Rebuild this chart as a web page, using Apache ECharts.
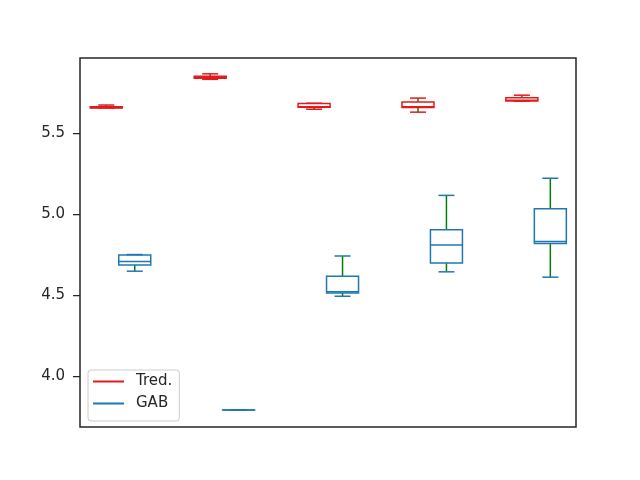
<!DOCTYPE html>
<html><head><meta charset="utf-8">
<script src="https://cdn.jsdelivr.net/npm/echarts@6/dist/echarts.min.js"></script>
<style>html,body{margin:0;padding:0;background:#fff}#c{width:640px;height:480px}</style>
</head><body><div id="c"></div>
<script>
// data: [min, q1, median, q3, max]
var groups = [1, 2, 3, 4, 5];
var tred = [
  [5.657, 5.657, 5.660, 5.664, 5.675],
  [5.834, 5.840, 5.847, 5.853, 5.868],
  [5.649, 5.662, 5.664, 5.684, 5.686],
  [5.631, 5.659, 5.665, 5.693, 5.718],
  [5.699, 5.700, 5.705, 5.720, 5.736]
];
var gab = [
  [4.647, 4.685, 4.707, 4.747, 4.750],
  [3.788, 3.788, 3.788, 3.788, 3.788],
  [4.492, 4.512, 4.520, 4.616, 4.741],
  [4.643, 4.697, 4.809, 4.903, 5.116],
  [4.610, 4.819, 4.830, 5.033, 5.222]
];
var yTicks = [4.0, 4.5, 5.0, 5.5];
var seriesNames = ['Tred.', 'GAB'];

var RED = '#e31a1c', BLUE = '#1f77b4', GREEN = '#008000', INK = '#262626';
var OFFSET = 0.137, BOXW = 0.308;

function rows(vals, off) {
  return vals.map(function (v, i) { return [groups[i] + off].concat(v); });
}
function makeRender(color) {
  return function (params, api) {
    var x = api.value(0);
    var pMin = api.coord([x, api.value(1)]);
    var pQ1 = api.coord([x, api.value(2)]);
    var pMed = api.coord([x, api.value(3)]);
    var pQ3 = api.coord([x, api.value(4)]);
    var pMax = api.coord([x, api.value(5)]);
    var hw = api.size([BOXW, 0])[0] / 2;
    var cw = hw / 2;
    var cx = pMed[0];
    var lw = 1.5;
    var ls = { stroke: color, lineWidth: lw, fill: null };
    var gs = { stroke: GREEN, lineWidth: lw, fill: null };
    return {
      type: 'group',
      children: [
        { type: 'line', shape: { x1: cx, y1: pQ3[1], x2: cx, y2: pMax[1] }, style: gs },
        { type: 'line', shape: { x1: cx, y1: pQ1[1], x2: cx, y2: pMin[1] }, style: gs },
        { type: 'line', shape: { x1: cx - cw, y1: pMax[1], x2: cx + cw, y2: pMax[1] }, style: ls },
        { type: 'line', shape: { x1: cx - cw, y1: pMin[1], x2: cx + cw, y2: pMin[1] }, style: ls },
        { type: 'rect', shape: { x: cx - hw, y: pQ3[1], width: 2 * hw, height: Math.max(pQ1[1] - pQ3[1], 0.01) }, style: ls },
        { type: 'line', shape: { x1: cx - hw, y1: pMed[1], x2: cx + hw, y2: pMed[1] }, style: ls }
      ]
    };
  };
}

var chart = echarts.init(document.getElementById('c'), null, { renderer: 'canvas' });
chart.setOption({
  animation: false,
  backgroundColor: '#fff',
  grid: { left: 80, right: 64, top: 58, bottom: 53, show: true, borderColor: INK, borderWidth: 1.5, backgroundColor: 'transparent' },
  xAxis: {
    type: 'value', min: 0.610, max: 5.384,
    axisLine: { show: false }, axisTick: { show: false }, axisLabel: { show: false }, splitLine: { show: false }
  },
  yAxis: {
    type: 'value', min: 3.683, max: 5.966,
    axisLine: { show: false },
    splitLine: { show: false },
    axisTick: { show: true, length: 7, customValues: yTicks, lineStyle: { color: INK, width: 1.25 } },
    axisLabel: {
      show: true, customValues: yTicks, margin: 15, color: INK,
      fontFamily: 'DejaVu Sans', fontSize: 15,
      formatter: function (v) { return Number(v).toFixed(1); }
    }
  },
  legend: {
    data: seriesNames.map(function (n) { return { name: n, icon: 'rect' }; }),
    orient: 'vertical', left: 88, top: 370,
    itemWidth: 31, itemHeight: 2, itemGap: 7,
    padding: [4, 7, 10, 5],
    backgroundColor: '#fff', borderColor: '#cccccc', borderWidth: 1, borderRadius: 3,
    textStyle: { fontFamily: 'DejaVu Sans', fontSize: 15, color: INK, lineHeight: 15, padding: [0, 0, 0, 7] }
  },
  series: [
    { name: seriesNames[0], type: 'custom', renderItem: makeRender(RED), itemStyle: { color: RED },
      encode: { x: 0, y: [1, 2, 3, 4, 5] }, data: rows(tred, -OFFSET), z: 3 },
    { name: seriesNames[1], type: 'custom', renderItem: makeRender(BLUE), itemStyle: { color: BLUE },
      encode: { x: 0, y: [1, 2, 3, 4, 5] }, data: rows(gab, OFFSET), z: 3 }
  ]
});
</script></body></html>
